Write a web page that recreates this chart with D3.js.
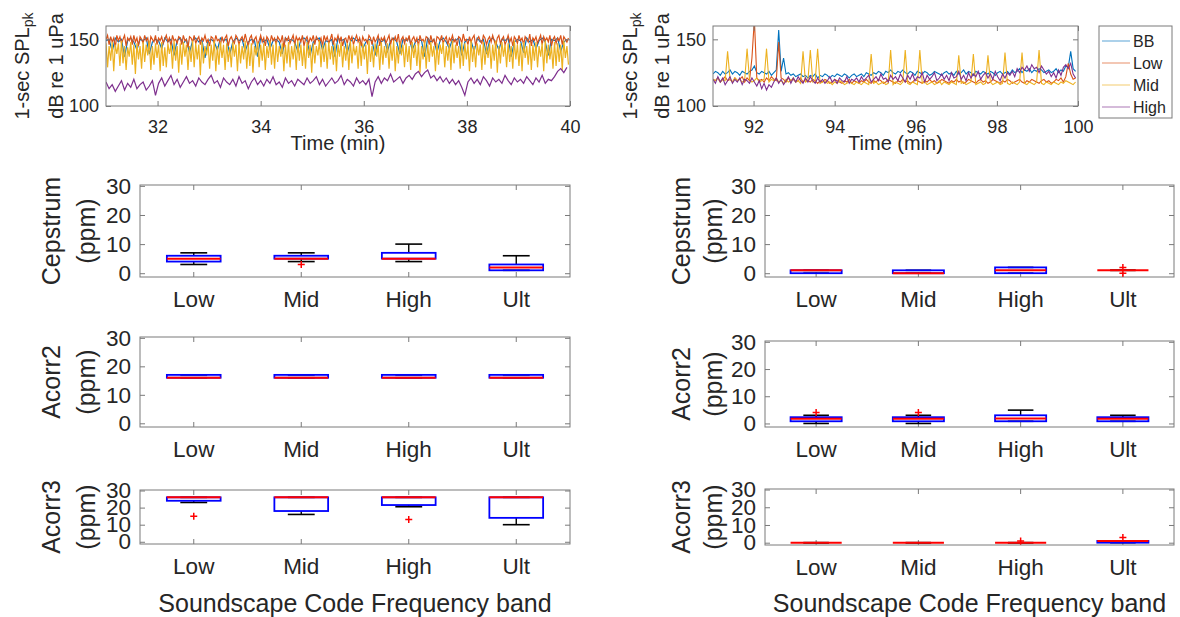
<!DOCTYPE html>
<html>
<head>
<meta charset="utf-8">
<script src="https://cdn.jsdelivr.net/npm/d3@7/dist/d3.min.js"></script>
<style>
  body { margin: 0; background: #fff; }
  text { font-family: "Liberation Sans", Arial, sans-serif; fill: #262626; }
</style>
</head>
<body>
<script>
// ---- time series: 1-sec SPLpk (dB re 1 uPa) ----
const startA = 31   // first recording window, minutes
const startB = 91   // second recording window
const stepCoarse = 0.06  // minutes between stored values
const stepFine = 0.03

const seriesNames = ["BB", "Low", "Mid", "High"]
const seriesColors = ["#0072BD", "#D95319", "#EDB120", "#7E2F8E"]

const bbA = [149,150,141,151,148,150,137,149,151,148,142,150,149,151,139,148,150,149,143,151,
  148,150,138,149,151,147,150,140,149,151,148,150,136,149,150,148,142,151,149,150,
  139,148,151,149,150,141,148,150,149,137,151,148,150,143,149,150,148,139,151,149,
  150,148,141,150,151,149,138,148,150,151,142,149,148,150,137,151,149,150,140,148,
  151,149,150,143,148,150,149,138,151,148,150,141,149,151,148,139,150,149,151,142,
  148,150,149,137,151,148,150,140,149,151,148,143,150,149,151,138,148,150,149,141,
  151,148,150,139,149,151,148,142,150,149,151,137,148,150,149,140,151,148,150,143,
  149,151,148,138,150,149,151,141,148,150]
const lowA = [150,153,146,152,148,151,144,153,149,152,147,150,153,145,151,149,152,146,153,148,
  151,145,152,150,147,153,149,151,144,152,150,148,153,146,151,149,152,147,150,153,
  148,151,145,153,149,150,147,152,151,146,153,149,150,144,152,151,148,153,147,150,
  152,146,151,149,153,148,150,145,152,151,147,153,149,150,146,152,148,151,153,145,
  150,152,149,147,153,151,146,150,152,148,154,149,145,151,153,147,150,152,146,149,
  153,148,151,145,152,150,147,153,149,151,146,152,150,148,153,144,151,149,152,147,
  150,153,146,152,149,151,148,153,145,150,152,147,151,149,153,146,152,150,148,151,
  145,153,149,152,147,150,154,146,151,149,153,148,152,145,150,151,147,153,149,152,
  146,150,153,148,151,145,152,149,150,147,153,151,146,152,148,150,153,145,151,149,
  152,147,150,153,146,151,149,152,148,154,145,150,152,147,151,149,153,146,150,152,
  148,151,145,153,149,150,147,152,151,146,153,148,150,145,152,151,149,153,147,150,
  152,146,151,149,153,148,150,145,152,151,147,154,149,150,146,152,148,151,153,145,
  150,152,149,147,153,151,146,150,152,148,153,149,145,151,153,147,150,152,146,149,
  153,148,151,145,152,150,147,153,149,151,146,152,150,148,154,145,151,149,152,147,
  150,153,146,152,149,151,148,153,145,150,152,147,151,149,153,146,152,150,148,151]
const midA = [147,129,145,134,148,126,146,139,147,130,149,132,145,127,144,137,148,131,146,124,
  147,135,145,128,148,133,146,138,149,127,145,131,147,136,146,126,148,130,144,129,
  147,139,146,128,149,134,145,125,147,131,148,137,146,127,145,133,149,129,147,135,
  146,123,148,132,145,138,147,128,146,134,149,126,145,131,148,136,146,127,147,133,
  144,129,148,137,146,126,147,132,145,135,149,128,146,130,147,125,145,138,148,129,
  146,134,147,127,145,136,149,131,146,128,148,133,145,137,147,126,146,132,148,129,
  145,135,147,127,149,134,146,130,145,128,148,136,146,125,147,132,145,138,149,129,
  146,133,147,128,148,135,145,131,147,126,146,137,148,129,145,134,147,127,149,132,
  146,138,145,128,148,130,147,135,146,124,149,133,145,129,147,137,146,127,148,131,
  145,136,147,128,146,134,149,126,145,132,148,138,146,129,147,133,145,127,148,136,
  146,130,147,125,145,135,149,128,146,133,148,137,145,126,147,131,146,139,148,129,
  145,134,147,127,149,132,146,136,145,128,148,130,147,135,146,126,149,133,145,129,
  147,138,146,127,148,131,145,136,147,128,146,134,149,125,145,132,148,137,146,129,
  147,133,145,128,149,135,146,130,147,126,148,136,145,131,147,127,146,134,148,129,
  145,137,147,126,149,132,146,135,145,128,148,130,147,133,146,127,149,136,145,131]
const highA = [118,113,116,111,115,119,112,117,114,120,113,116,118,112,115,119,108,
  117,121,115,119,123,116,120,114,118,122,117,119,115,121,118,116,120,
  123,117,119,114,121,118,116,120,115,122,117,119,113,118,121,116,
  119,115,120,117,122,116,118,114,121,117,119,115,120,118,116,121,117,
  119,122,116,120,115,118,121,117,119,123,116,120,118,115,121,117,119,
  116,120,107,118,122,117,121,119,124,118,120,122,117,121,123,120,
  124,126,122,125,127,121,123,119,122,118,121,117,120,116,119,114,108,
  118,121,117,120,116,122,119,115,121,118,120,117,123,119,116,121,118,
  120,117,122,119,116,121,118,123,117,120,119,122,126,128,125,129]

const bbB = [124,126,125,123,126,124,125,127,124,126,125,123,126,125,124,126,127,130,125,124,
  126,125,124,126,123,125,127,157,126,136,124,125,123,124,122,123,124,122,123,121,
  123,122,124,121,123,122,124,123,121,123,122,124,123,122,124,123,121,123,124,122,
  123,124,122,125,124,123,125,124,126,125,123,126,125,127,125,124,126,125,127,125,
  124,126,125,123,126,125,124,126,125,123,124,126,125,124,123,125,126,124,125,123,
  126,124,125,127,124,126,125,123,126,125,124,126,125,124,126,125,123,125,126,124,
  125,126,124,127,125,126,128,125,127,126,128,125,127,126,128,127,125,126,127,125,
  126,128,125,127,126,130,129,141,128,126]
const lowB = [120,119,121,118,120,122,119,120,118,121,119,120,122,118,121,119,136,165,121,119,
  120,118,121,119,122,120,119,148,121,120,118,121,119,120,118,119,121,118,120,119,
  118,120,119,117,119,118,120,119,117,118,120,119,118,117,119,118,120,117,119,118,
  117,119,118,120,118,117,119,118,120,119,117,118,120,119,118,117,119,118,120,118,
  119,117,118,120,119,118,117,119,118,120,118,119,117,118,120,119,118,117,119,118,
  120,118,119,117,118,120,119,118,117,119,120,118,119,117,118,120,119,118,117,119,
  118,120,119,117,118,119,120,118,117,119,118,120,119,118,117,119,120,118,119,117,
  118,120,119,121,118,122,132,124,120,121]
const midB = [120,119,121,118,120,119,141,120,118,121,119,120,118,119,143,120,118,119,121,118,
  119,120,143,118,120,119,121,118,119,117,120,118,119,121,118,119,117,141,118,119,
  142,118,119,143,117,118,119,117,118,116,118,117,119,118,116,117,118,117,116,118,
  117,116,118,117,116,139,117,118,116,117,118,116,117,142,116,118,117,116,118,142,
  117,116,118,117,116,142,117,118,116,117,118,116,117,119,116,118,117,116,118,117,
  116,138,117,118,116,117,118,139,116,117,118,116,117,138,118,116,117,118,116,117,
  140,117,116,118,117,116,118,140,117,116,118,117,116,118,142,117,116,118,117,116,
  118,117,116,118,117,119,118,117,116,118]
const highB = [120,117,122,118,121,116,119,122,117,120,118,121,116,120,119,117,121,118,115,119,
  113,117,112,116,114,118,121,117,120,116,119,122,117,121,118,122,119,117,121,118,
  122,119,117,121,118,120,117,119,122,118,120,117,121,119,118,122,117,120,119,121,
  118,122,119,121,123,118,120,122,119,124,120,121,118,123,120,122,119,124,121,118,
  123,120,124,119,122,121,125,118,123,120,122,125,119,121,124,120,123,119,125,121,
  122,126,120,123,119,125,121,124,122,126,120,123,125,121,124,120,126,122,119,124,
  121,125,123,126,122,128,125,129,127,130,126,131,128,129,125,130,127,124,126,122,
  125,121,127,123,129,131,128,132,124,121]

// ---- box plots (ppm) per soundscape code frequency band ----
const bands = ["Low", "Mid", "High", "Ult"]
// each row: [lower whisker, q1, median, q3, upper whisker]
const cepstrumA = [[3,4,5,6,7], [4,5,5,6,7], [4,5,5,7,10], [1,1,2,3,6]]
const cepstrumAOut = [[], [3], [], []]
const cepstrumB = [[0,0,1,1,1], [0,0,0,1,1], [0,0,1,2,2], [1,1,1,1,1]]
const cepstrumBOut = [[], [], [], [2,0]]
const acorr2A = [[16,16,16,17,17], [16,16,16,17,17], [16,16,16,17,17], [16,16,16,17,17]]
const acorr2AOut = [[], [], [], []]
const acorr2B = [[0,0.8,1.7,2.3,3], [0,0.8,1.7,2.3,3], [0.8,0.8,1.8,3,4.9], [0.8,0.8,1.7,2.3,3]]
const acorr2BOut = [[4], [4], [], []]
const acorr3A = [[23,24,26,26,26], [16,18,26,26,26], [20.5,21.5,26,26,26], [10,14,26,26,26]]
const acorr3AOut = [[15], [], [13], []]
const acorr3B = [[0,0,0,0,0], [0,0,0,0,0], [0,0,0,0,0], [0,0,1,1,1]]
const acorr3BOut = [[], [], [1], [3]]
const ppmTicks = [0, 10, 20, 30]

const svg = d3.select("body").append("svg")
  .attr("width", 1180)
  .attr("height", 617)

const frameColor = "#7a7a7a"

// matlab-like axis: inward ticks, no domain line
function styleAxis(g, size) {
  g.select(".domain").remove()
  g.selectAll(".tick line").attr("stroke", frameColor)
  g.selectAll("text").attr("font-size", size).attr("font-family", null).attr("fill", "#262626")
}

function drawTimePanel(p) {
  let g = svg.append("g")
  let x = d3.scaleLinear().domain(p.xDomain).range([p.left, p.right])
  let y = d3.scaleLinear().domain([100, 160]).range([p.bottom, p.top])

  let clipId = "clip" + p.id
  svg.append("clipPath").attr("id", clipId)
    .append("rect")
    .attr("x", p.left).attr("y", p.top)
    .attr("width", p.right - p.left).attr("height", p.bottom - p.top)

  p.series.forEach((s, k) => {
    let line = d3.line()
      .x((d, i) => x(p.start + i * s.step))
      .y(d => y(d))
    g.append("path")
      .attr("clip-path", "url(#" + clipId + ")")
      .attr("d", line(s.values))
      .attr("fill", "none")
      .attr("stroke", seriesColors[k])
      .attr("stroke-width", p.lineWidth)
  })

  let ax = g.append("g").attr("transform", "translate(0," + p.bottom + ")")
    .call(d3.axisBottom(x).tickValues(p.xTicks).tickFormat(d3.format("d")).tickSize(-5).tickPadding(14))
  styleAxis(ax, 18)
  let axTop = g.append("g").attr("transform", "translate(0," + p.top + ")")
    .call(d3.axisTop(x).tickValues(p.xTicks).tickFormat("").tickSize(-5))
  styleAxis(axTop, 18)
  let ay = g.append("g").attr("transform", "translate(" + p.left + ",0)")
    .call(d3.axisLeft(y).tickValues([100, 150]).tickSize(-5).tickPadding(7))
  styleAxis(ay, 18)
  let ayR = g.append("g").attr("transform", "translate(" + p.right + ",0)")
    .call(d3.axisRight(y).tickValues([100, 150]).tickFormat("").tickSize(-5))
  styleAxis(ayR, 18)

  g.append("rect")
    .attr("x", p.left).attr("y", p.top)
    .attr("width", p.right - p.left).attr("height", p.bottom - p.top)
    .attr("fill", "none").attr("stroke", frameColor)

  g.append("text")
    .attr("x", (p.left + p.right) / 2).attr("y", 143)
    .attr("text-anchor", "middle").attr("dy", "0.35em")
    .attr("font-size", 20)
    .text("Time (min)")

  let yc = (p.top + p.bottom) / 2
  let t1 = g.append("text")
    .attr("transform", "translate(" + p.labelX1 + "," + yc + ") rotate(-90)")
    .attr("text-anchor", "middle").attr("dy", "0.35em")
    .attr("font-size", 20)
  t1.append("tspan").text("1-sec SPL")
  t1.append("tspan").attr("font-size", 14).attr("dy", "0.3em").text("pk")
  g.append("text")
    .attr("transform", "translate(" + p.labelX2 + "," + yc + ") rotate(-90)")
    .attr("text-anchor", "middle").attr("dy", "0.35em")
    .attr("font-size", 20)
    .text("dB re 1 uPa")
}

drawTimePanel({
  id: "A", left: 106, right: 570, top: 26, bottom: 106,
  xDomain: [31, 40], xTicks: [32, 34, 36, 38, 40], start: startA, lineWidth: 1.2,
  series: [
    { values: bbA, step: stepCoarse },
    { values: lowA, step: stepFine },
    { values: midA, step: stepFine },
    { values: highA, step: stepCoarse }
  ],
  labelX1: 22, labelX2: 56
})
drawTimePanel({
  id: "B", left: 713, right: 1078, top: 26, bottom: 106,
  xDomain: [91, 100], xTicks: [92, 94, 96, 98, 100], start: startB, lineWidth: 1.1,
  series: [
    { values: bbB, step: stepCoarse },
    { values: lowB, step: stepCoarse },
    { values: midB, step: stepCoarse },
    { values: highB, step: stepCoarse }
  ],
  labelX1: 630, labelX2: 662
})

// legend for the time series
let legend = svg.append("g")
legend.append("rect")
  .attr("x", 1099).attr("y", 26).attr("width", 73).attr("height", 92)
  .attr("fill", "#fff").attr("stroke", frameColor)
seriesNames.forEach((name, k) => {
  let ly = 41 + k * 22
  legend.append("line")
    .attr("x1", 1102).attr("x2", 1130).attr("y1", ly).attr("y2", ly)
    .attr("stroke", seriesColors[k]).attr("stroke-width", 1.2).attr("stroke-opacity", 0.55)
  legend.append("text")
    .attr("x", 1133).attr("y", ly).attr("dy", "0.35em")
    .attr("font-size", 16)
    .text(name)
})

function drawBoxPanel(p) {
  let g = svg.append("g")
  let x = d3.scaleBand().domain(bands).range([p.left, p.right])
  let y = d3.scaleLinear().domain([-1.3, 30.3]).range([p.bottom, p.top])
  let bw = x.bandwidth() * 0.5

  let ax = g.append("g").attr("transform", "translate(0," + p.bottom + ")")
    .call(d3.axisBottom(x).tickSize(-5).tickPadding(14))
  styleAxis(ax, 22.5)
  let axTop = g.append("g").attr("transform", "translate(0," + p.top + ")")
    .call(d3.axisTop(x).tickFormat("").tickSize(-5))
  styleAxis(axTop, 22.5)
  let ay = g.append("g").attr("transform", "translate(" + p.left + ",0)")
    .call(d3.axisLeft(y).tickValues(ppmTicks).tickSize(-5).tickPadding(9))
  styleAxis(ay, 22.5)
  let ayR = g.append("g").attr("transform", "translate(" + p.right + ",0)")
    .call(d3.axisRight(y).tickValues(ppmTicks).tickFormat("").tickSize(-5))
  styleAxis(ayR, 22.5)

  g.append("rect")
    .attr("x", p.left).attr("y", p.top)
    .attr("width", p.right - p.left).attr("height", p.bottom - p.top)
    .attr("fill", "none").attr("stroke", frameColor)

  p.stats.forEach((s, i) => {
    let cx = x(bands[i]) + x.bandwidth() / 2
    // whiskers and caps
    g.append("line").attr("x1", cx).attr("x2", cx).attr("y1", y(s[3])).attr("y2", y(s[4]))
      .attr("stroke", "#000").attr("stroke-width", 1.4)
    g.append("line").attr("x1", cx).attr("x2", cx).attr("y1", y(s[0])).attr("y2", y(s[1]))
      .attr("stroke", "#000").attr("stroke-width", 1.4)
    ;[s[0], s[4]].forEach(v => {
      g.append("line").attr("x1", cx - bw / 4).attr("x2", cx + bw / 4).attr("y1", y(v)).attr("y2", y(v))
        .attr("stroke", "#000").attr("stroke-width", 1.6)
    })
    // box
    g.append("rect")
      .attr("x", cx - bw / 2).attr("y", y(s[3]))
      .attr("width", bw).attr("height", y(s[1]) - y(s[3]))
      .attr("fill", "none").attr("stroke", "#0000ff").attr("stroke-width", 1.8)
    // median
    g.append("line").attr("x1", cx - bw / 2).attr("x2", cx + bw / 2).attr("y1", y(s[2])).attr("y2", y(s[2]))
      .attr("stroke", "#ff0000").attr("stroke-width", 2)
    // outliers as red plus signs
    p.outliers[i].forEach(v => {
      g.append("path")
        .attr("d", "M" + (cx - 3.5) + "," + y(v) + "h7M" + cx + "," + (y(v) - 3.5) + "v7")
        .attr("stroke", "#ff0000").attr("stroke-width", 1.5).attr("fill", "none")
    })
  })

  let yc = (p.top + p.bottom) / 2
  g.append("text")
    .attr("transform", "translate(" + p.labelX1 + "," + yc + ") rotate(-90)")
    .attr("text-anchor", "middle").attr("dy", "0.35em")
    .attr("font-size", 25)
    .text(p.ylabel)
  g.append("text")
    .attr("transform", "translate(" + p.labelX2 + "," + yc + ") rotate(-90)")
    .attr("text-anchor", "middle").attr("dy", "0.35em")
    .attr("font-size", 25)
    .text("(ppm)")

  if (p.xlabel) {
    g.append("text")
      .attr("x", (p.left + p.right) / 2).attr("y", 603)
      .attr("text-anchor", "middle").attr("dy", "0.35em")
      .attr("font-size", 25)
      .text("Soundscape Code Frequency band")
  }
}

const colA = { left: 140, right: 570, labelX1: 51, labelX2: 86 }
const colB = { left: 765, right: 1174, labelX1: 681, labelX2: 713 }

drawBoxPanel(Object.assign({}, colA, { top: 185, bottom: 277, stats: cepstrumA, outliers: cepstrumAOut, ylabel: "Cepstrum" }))
drawBoxPanel(Object.assign({}, colB, { top: 185, bottom: 277, stats: cepstrumB, outliers: cepstrumBOut, ylabel: "Cepstrum" }))
drawBoxPanel(Object.assign({}, colA, { top: 337, bottom: 427, stats: acorr2A, outliers: acorr2AOut, ylabel: "Acorr2" }))
drawBoxPanel(Object.assign({}, colB, { top: 341, bottom: 427, stats: acorr2B, outliers: acorr2BOut, ylabel: "Acorr2" }))
drawBoxPanel(Object.assign({}, colA, { top: 490, bottom: 544, stats: acorr3A, outliers: acorr3AOut, ylabel: "Acorr3", xlabel: true }))
drawBoxPanel(Object.assign({}, colB, { top: 489, bottom: 545, stats: acorr3B, outliers: acorr3BOut, ylabel: "Acorr3", xlabel: true }))
</script>
</body>
</html>
